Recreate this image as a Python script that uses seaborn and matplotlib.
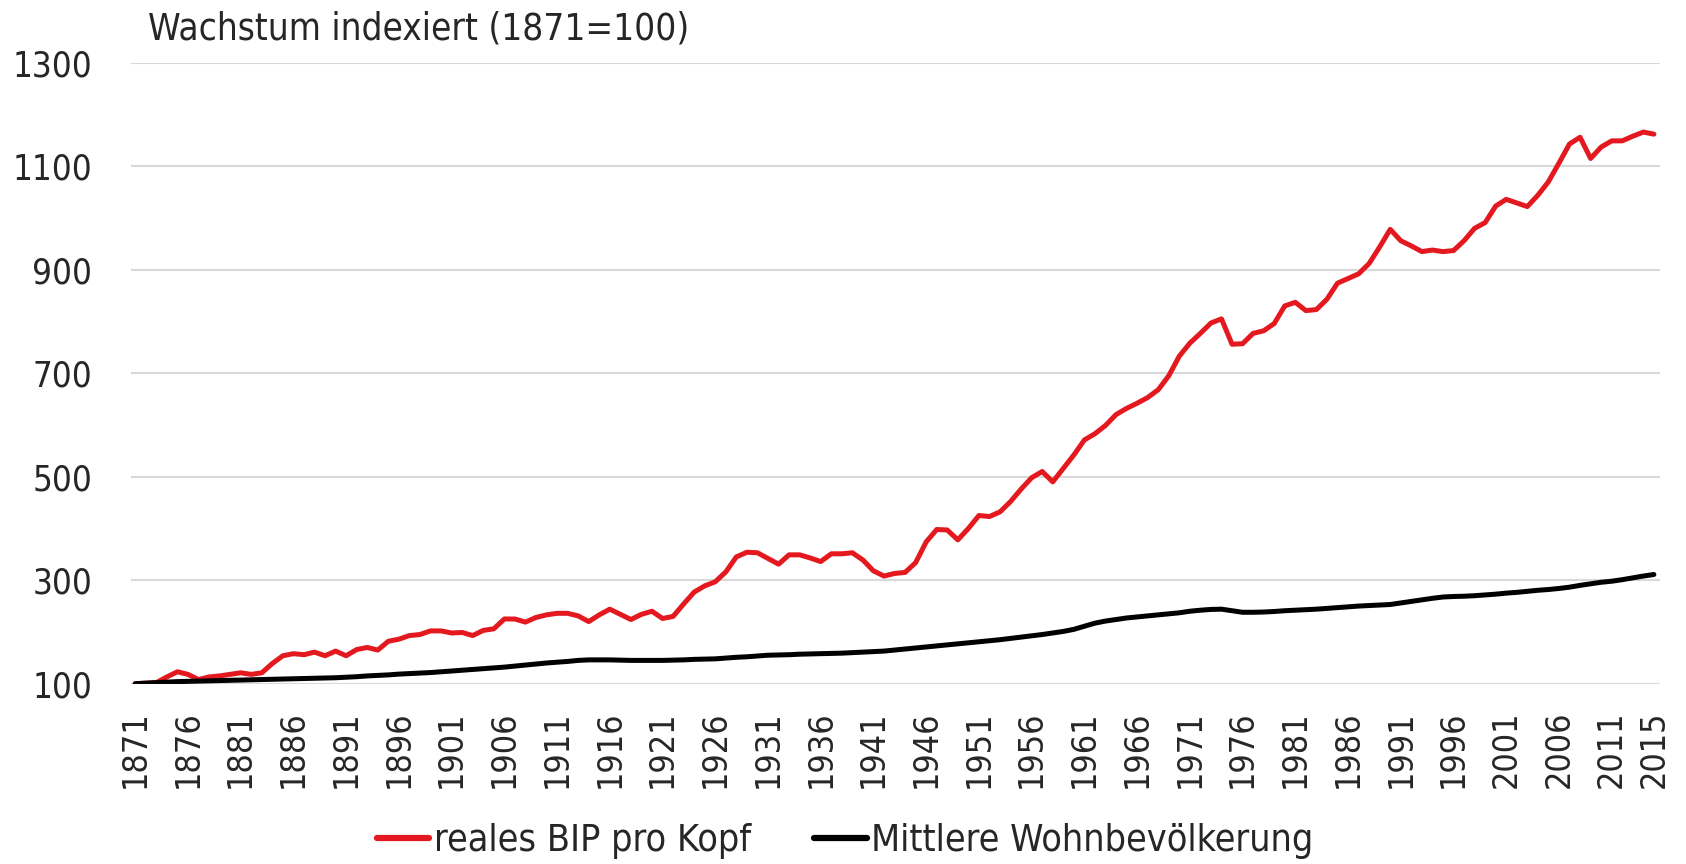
import matplotlib
matplotlib.use("Agg")
import matplotlib.pyplot as plt
import numpy as np
import pandas as pd
import seaborn as sns

# Data (index 1871 = 100)
years = list(range(1871, 2016))

bip_pro_kopf = [
    100, 101, 102, 113, 123, 118, 108, 113, 115, 118,   # 1871-1880
    121, 118, 121, 139, 154, 158, 156, 161, 154, 163,   # 1881-1890
    154, 166, 170, 165, 182, 186, 193, 195, 202, 202,   # 1891-1900
    198, 199, 193, 203, 206, 225, 225, 219, 228, 233,   # 1901-1910
    236, 236, 231, 220, 233, 244, 234, 224, 234, 240,   # 1911-1920
    226, 230, 254, 277, 289, 297, 316, 345, 354, 353,   # 1921-1930
    342, 331, 349, 349, 343, 336, 351, 351, 353, 339,   # 1931-1940
    318, 308, 313, 315, 334, 374, 398, 397, 378, 400,   # 1941-1950
    425, 423, 432, 452, 476, 498, 510, 490, 516, 542,   # 1951-1960
    571, 583, 599, 620, 632, 642, 653, 668, 695, 733,   # 1961-1970
    758, 777, 797, 805, 756, 757, 777, 782, 796, 830,   # 1971-1980
    837, 821, 823, 843, 874, 883, 892, 912, 944, 978,   # 1981-1990
    956, 946, 935, 938, 935, 937, 956, 980, 991, 1023,  # 1991-2000
    1036, 1029, 1022, 1044, 1070, 1106, 1143, 1156, 1115, 1137,  # 2001-2010
    1149, 1149, 1158, 1166, 1162,                        # 2011-2015
]

wohnbevoelkerung = [
    100, 101, 102, 103, 104, 104.5, 105, 105.5, 106, 106.5,          # 1871-1880
    107, 107.5, 108, 108.5, 109, 109.5, 110, 110.5, 111, 111.5,      # 1881-1890
    112.5, 113.5, 115, 116, 117, 118.5, 119.5, 120.5, 121.5, 123,    # 1891-1900
    124.5, 126, 127.5, 129, 130.5, 132, 134, 136, 138, 140,          # 1901-1910
    141.5, 143, 145, 146, 146, 146, 145.5, 145, 145, 145,            # 1911-1920
    145, 145.5, 146, 147, 147.5, 148, 149.5, 151, 152, 153.5,        # 1921-1930
    155, 155.5, 156, 157, 157.5, 158, 158.5, 159, 160, 161,          # 1931-1940
    162, 163, 165, 167, 169, 171, 173, 175, 177, 179,                # 1941-1950
    181, 183, 185, 187.5, 190, 192.5, 195, 198, 201, 205,            # 1951-1960
    211, 217, 221, 224, 227, 229, 231, 233, 235, 237,                # 1961-1970
    240, 242, 243.5, 244, 241, 238, 238, 238.5, 239.5, 241,          # 1971-1980
    242, 243, 244, 245.5, 247, 248.5, 250, 251, 252, 253,            # 1981-1990
    256, 259, 262, 265, 267.5, 268.5, 269, 270, 271.5, 273,          # 1991-2000
    275, 276.5, 278.5, 280.5, 282, 284, 286.5, 290, 293, 296,        # 2001-2010
    298, 301, 304.5, 308, 311,                                       # 2011-2015
]

series_names = ["reales BIP pro Kopf", "Mittlere Wohnbevölkerung"]
series_colors = ["#e3191f", "#000000"]
tick_years = list(range(1871, 2012, 5)) + [2015]
y_ticks = [100, 300, 500, 700, 900, 1100, 1300]
title = "Wachstum indexiert (1871=100)"

df = pd.DataFrame({
    "Jahr": years * 2,
    "Index": bip_pro_kopf + wohnbevoelkerung,
    "Reihe": [series_names[0]] * len(years) + [series_names[1]] * len(years),
})

sns.set_style("white")
plt.rcParams["font.family"] = ["DejaVu Sans"]
plt.rcParams["font.stretch"] = "condensed"

fig = plt.figure(figsize=(16.86, 8.64), dpi=100)
ax = fig.add_axes([0.0777, 0.2087, 0.907, 0.7187])

sns.lineplot(data=df, x="Jahr", y="Index", hue="Reihe",
             palette=dict(zip(series_names, series_colors)),
             linewidth=3.6, ax=ax)

ax.set_xlim(1870.6, 2015.6)
ax.set_ylim(100, 1300)
ax.set_xticks(tick_years)
ax.set_xticklabels([str(t) for t in tick_years], rotation=90)
ax.set_yticks(y_ticks)
ax.grid(axis="y", color="#d9d9d9", linewidth=1.5)
ax.set_axisbelow(True)
ax.set_xlabel("")
ax.set_ylabel("")
for s in ax.spines.values():
    s.set_visible(False)
ax.tick_params(axis="y", labelsize=25, pad=28, length=0)
ax.tick_params(axis="x", labelsize=24.5, pad=19, length=0)

fig.text(0.0878, 0.966, title, fontsize=26.5, va="center", ha="left")

# legend sits centred on the figure, not on the plot area
leg = ax.legend(loc="center", bbox_to_anchor=(0.467, -0.253), ncol=2,
                frameon=False, fontsize=27, handlelength=1.4,
                handletextpad=0.12, columnspacing=1.7)
for line in leg.get_lines():
    line.set_linewidth(4.5)

fig.savefig("out.png", dpi=100)
